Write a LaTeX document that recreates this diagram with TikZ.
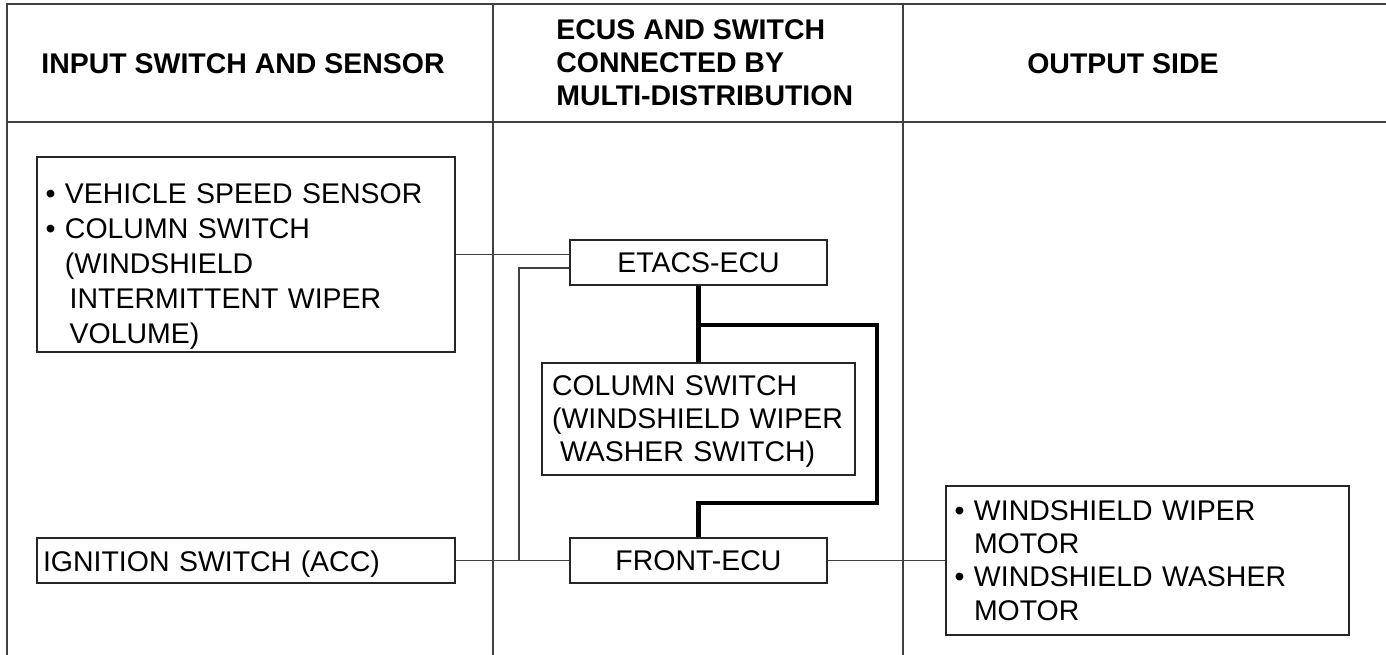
\documentclass[tikz,border=0pt]{standalone}
\usepackage{fontspec}
\setmainfont{Liberation Sans}
\usetikzlibrary{positioning}

\begin{document}
\begin{tikzpicture}[
  x=0.02cm, y=-0.02cm,
  frame/.style={draw=black!75, line width=1.1pt},
  unit/.style={
    draw=black!85, line width=0.8pt, fill=white,
    align=left, font=\fontsize{16.2}{19}\selectfont,
    inner xsep=0.17cm, inner ysep=0pt
  },
  head/.style={font=\fontsize{16.2}{18.8}\selectfont\bfseries, inner sep=0pt},
  wire/.style={draw=black!75, line width=0.6pt},
  bus/.style={draw=black, line width=2.8pt, line join=miter}
]
  \useasboundingbox (0,0) rectangle (1386,655);

  % --- Frame ---
  \draw[frame] (7,655) -- (7,4) -- (1386,4);
  \draw[frame] (7,122) -- (1386,122);
  \draw[frame] (493,4) -- (493,655);
  \draw[frame] (903,4) -- (903,655);

  % --- Headers ---
  \node[head] (hIn) at (243,64) {INPUT SWITCH AND SENSOR};
  \node[head, align=left, anchor=west] (hEcu) at (556,63) {
    ECUS AND SWITCH\\
    CONNECTED BY\\
    MULTI-DISTRIBUTION
  };
  \node[head] (hOut) at (1123,64) {OUTPUT SIDE};

  % --- Nodes ---
  \node[unit, text width=8.02cm, minimum height=3.9cm,
        font=\fontsize{16.2}{19.9}\selectfont] (sensors) at (246,254.5) {
    \rule{0pt}{0.87cm}\textbullet\ VEHICLE SPEED SENSOR\\
    \textbullet\ COLUMN SWITCH\\
    \phantom{\textbullet}\ (WINDSHIELD\\
    \phantom{\textbullet}\ \,INTERMITTENT WIPER\\
    \phantom{\textbullet}\ \,VOLUME)
  };

  \node[unit, text width=8.12cm, minimum height=0.9cm, inner xsep=0.12cm]
    (ign) at (246,560.5) {\rule{0pt}{0.56cm}IGNITION SWITCH (ACC)};

  \node[unit, align=center, text width=4.8cm, minimum height=0.9cm]
    (etacs) at (698.5,262.5) {ETACS-ECU};

  \node[unit, text width=5.86cm, minimum height=2.24cm, inner xsep=0.2cm]
    (colsw) at (698.5,419) {
    \rule{0pt}{0.5cm}COLUMN SWITCH\\
    (WINDSHIELD WIPER\\
    \hspace*{0.16cm}WASHER SWITCH)
  };

  \node[unit, align=center, text width=4.8cm, minimum height=0.9cm]
    (front) at (698.5,560.5) {FRONT-ECU};

  \node[unit, text width=7.72cm, minimum height=2.98cm] (motors) at (1147.5,560.5) {
    \textbullet\ WINDSHIELD WIPER\\
    \phantom{\textbullet}\ MOTOR\\
    \textbullet\ WINDSHIELD WASHER\\
    \phantom{\textbullet}\ MOTOR
  };

  % --- Connections ---
  \coordinate (jn) at (519,560.5);
  \coordinate (bj) at (698.5,325);
  \coordinate (busR) at (877,325);
  \coordinate (busL) at (698.5,503);

  % input side to ECUs
  \draw[wire] (sensors.east) -- (sensors.east -| etacs.west);
  \draw[wire] ([yshift=-0.11cm]etacs.west) -| (jn);
  \draw[wire] (ign.east) -- (front.west);

  % multi-distribution bus
  \draw[bus] (etacs.south) -- (colsw.north);
  \draw[bus] (bj) -- (busR) |- (busL) -- (front.north);

  % ECU to output side
  \draw[wire] (front.east) -- (motors.west);

\end{tikzpicture}
\end{document}
